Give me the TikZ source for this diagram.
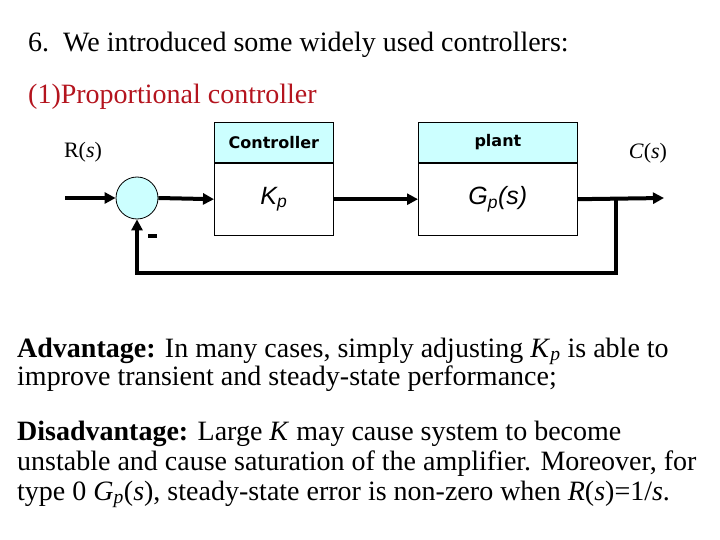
\documentclass[tikz,border=0pt]{standalone}
\usepackage{fontspec}
\setmainfont{Liberation Serif}
\newfontfamily\verd{DejaVu Sans}
\newfontfamily\arial{Liberation Sans}
\usetikzlibrary{arrows.meta}
\definecolor{boxcyan}{RGB}{204,255,255}
\definecolor{redtxt}{RGB}{180,20,30}
\begin{document}
\begin{tikzpicture}[x=1pt,y=-1pt,
  txt/.style={anchor=base west,inner sep=0pt,font=\fontsize{28}{30}\selectfont},
  hdr/.style={draw,line width=0.8pt,fill=boxcyan,anchor=north west,minimum height=40pt,inner sep=0pt,font=\verd\bfseries\fontsize{16}{18}\selectfont},
  body/.style={draw,line width=0.8pt,fill=white,anchor=north,minimum height=72pt,inner sep=0pt,font=\arial\itshape\fontsize{25}{27}\selectfont},
  sig/.style={line width=4pt,-{Triangle[length=11pt,width=11pt]}},
  sumnode/.style={circle,draw,line width=0.8pt,fill=boxcyan,minimum size=42pt,inner sep=0pt}]
\useasboundingbox (0,0) rectangle (720,540);
% titles
\node[txt] (t1) at (28,52) {6.\ \ We introduced some widely used controllers:};
\node[txt,text=redtxt] (t2) at (28,104) {(1)Proportional controller};
% block diagram
\node[sumnode] (sum) at (137,198) {};
\node[hdr,minimum width=119pt] (ch) at (214,122) {Controller};
\node[body,minimum width=119pt] (cb) at (ch.south) {K\textsubscript{p}};
\node[hdr,minimum width=159pt] (ph) at (418,122) {plant};
\node[body,minimum width=159pt] (pb) at (ph.south) {G\textsubscript{p}(s)};
\node[inner sep=0pt,font=\fontsize{22}{24}\selectfont] (rs) at (83,152) {R(\textit{s})};
\node[inner sep=0pt,font=\fontsize{22}{24}\selectfont] (cs) at (648,153) {\textit{C}(\textit{s})};
\node[fill=black,inner sep=0pt,minimum width=9pt,minimum height=4pt] (minus) at (152,236) {};
\coordinate (in) at (65,198);
\coordinate (out) at (664,198);
\coordinate (br) at (616,198);
\coordinate (fb) at (616,273);
\draw[sig] (in) -- (sum.west);
\draw[sig] (sum.east) -- (cb.west);
\draw[sig] (cb.east) -- (pb.west);
\draw[sig] (pb.east) -- (out);
\draw[sig] (br) -- (fb) -| (sum.south);
% paragraphs
\node[txt] (a1) at (17,357) {\textbf{Advantage:} In many cases, simply adjusting \textit{K}\textsubscript{\textit{p}} is able to};
\node[txt] (a2) at (17,385) {improve transient and steady-state performance;};
\node[txt] (d1) at (17,440) {\textbf{Disadvantage:} Large \textit{K} may cause system to become};
\node[txt] (d2) at (17,470) {unstable and cause saturation of the amplifier. Moreover, for};
\node[txt] (d3) at (17,500) {type 0 \textit{G}\textsubscript{\textit{p}}(\textit{s}), steady-state error is non-zero when \textit{R}(\textit{s})=1/\textit{s}.};
\end{tikzpicture}
\end{document}
